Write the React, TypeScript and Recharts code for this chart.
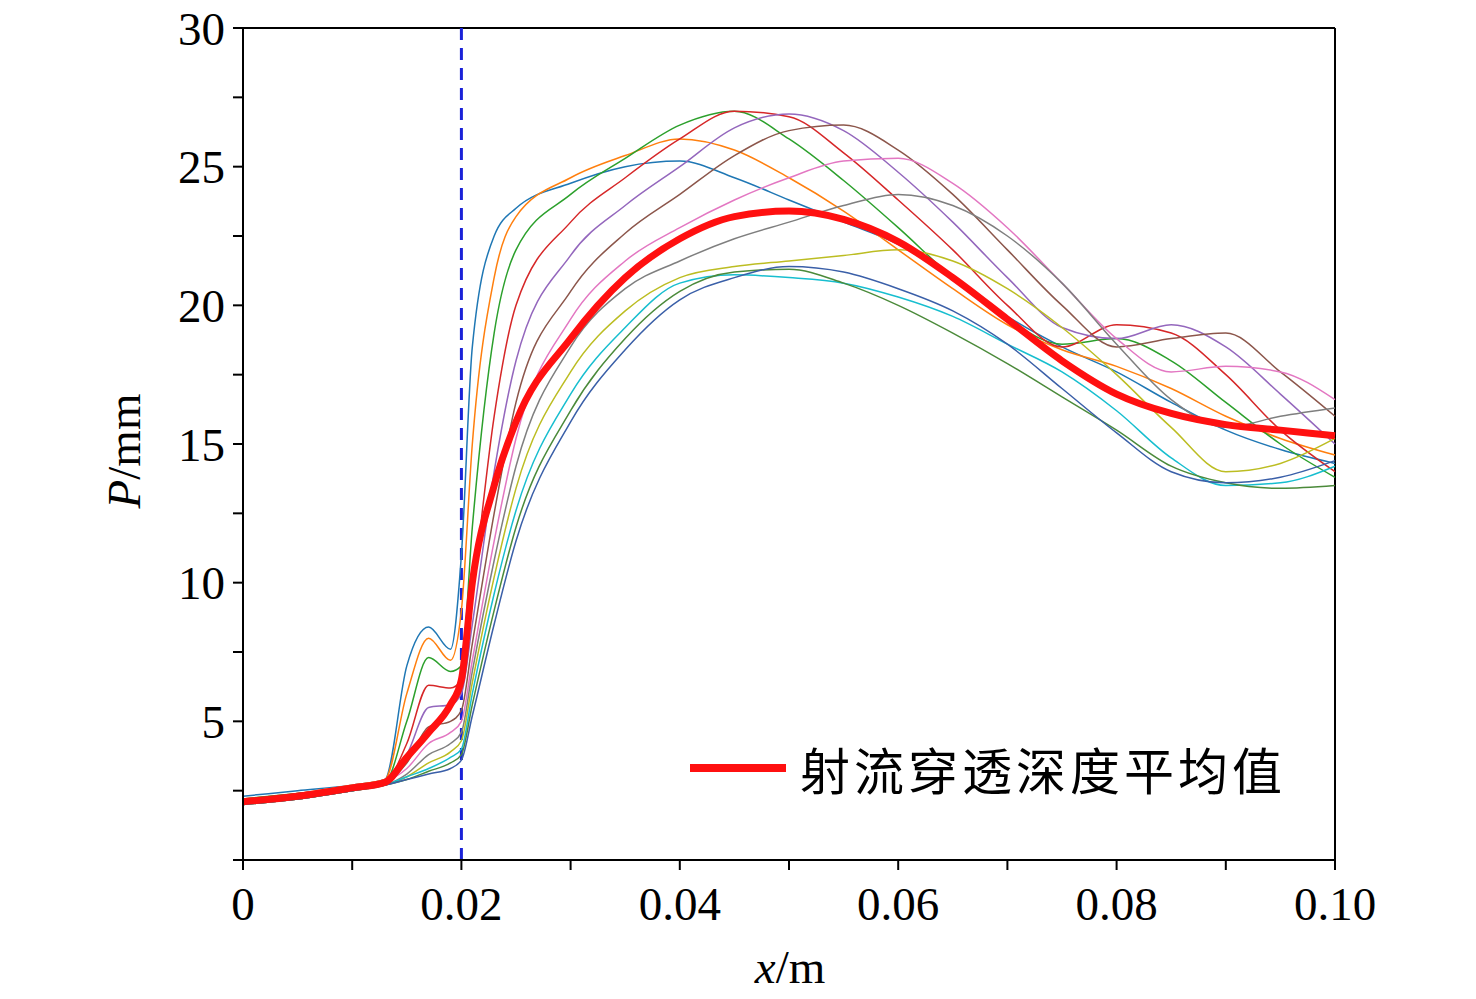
import React from "react";
import { LineChart, Line, XAxis, YAxis, ReferenceLine } from "recharts";

const xs = [0, 0.005, 0.01, 0.013, 0.015, 0.017, 0.019, 0.02, 0.021, 0.023, 0.025, 0.03, 0.035, 0.04, 0.045, 0.05, 0.055, 0.06, 0.065, 0.07, 0.075, 0.08, 0.085, 0.09, 0.095, 0.1];

const s1 = [2.3, 2.5, 2.7, 2.9, 7.0, 8.4, 7.6, 11.0, 18.5, 22.5, 23.5, 24.4, 25.0, 25.2, 24.6, 23.8, 23.0, 22.2, 21.0, 19.6, 18.5, 17.6, 16.5, 15.5, 14.8, 14.3];
const s2 = [2.2, 2.4, 2.7, 2.9, 6.0, 8.0, 7.2, 9.0, 15.0, 21.0, 23.2, 24.6, 25.4, 26.0, 25.6, 24.6, 23.4, 22.0, 20.6, 19.3, 18.4, 17.8, 17.0, 16.0, 15.2, 14.6];
const s3 = [2.2, 2.4, 2.6, 2.8, 5.0, 7.3, 6.8, 7.0, 12.0, 19.0, 22.0, 24.0, 25.3, 26.5, 27.0, 26.0, 24.5, 22.8, 21.0, 19.5, 18.6, 18.8, 18.0, 16.5, 15.0, 13.8];
const s4 = [2.1, 2.4, 2.6, 2.8, 4.2, 6.3, 6.2, 6.5, 9.5, 16.0, 20.0, 23.0, 24.6, 26.0, 27.0, 26.8, 25.5, 23.8, 22.0, 20.0, 18.5, 19.3, 19.0, 17.5, 15.5, 14.0];
const s5 = [2.1, 2.3, 2.6, 2.8, 3.8, 5.5, 5.6, 6.0, 8.5, 14.0, 18.0, 21.8, 23.6, 25.0, 26.4, 26.9, 26.3, 24.8, 23.0, 21.0, 19.2, 18.8, 19.3, 18.5, 16.8, 15.0];
const s6 = [2.1, 2.3, 2.6, 2.8, 3.5, 4.8, 5.0, 5.4, 7.8, 12.5, 16.5, 20.5, 22.6, 24.0, 25.4, 26.3, 26.5, 25.6, 24.0, 22.0, 20.0, 18.5, 18.8, 19.0, 17.6, 16.0];
const s7 = [2.0, 2.3, 2.5, 2.8, 3.3, 4.2, 4.6, 5.0, 7.2, 11.5, 15.2, 19.5, 21.6, 22.8, 23.8, 24.6, 25.2, 25.3, 24.4, 22.8, 20.8, 18.8, 17.6, 17.8, 17.6, 16.6];
const s8 = [2.0, 2.2, 2.5, 2.7, 3.1, 3.8, 4.2, 4.6, 6.8, 10.8, 14.2, 18.5, 20.6, 21.6, 22.4, 23.0, 23.6, 24.0, 23.6, 22.5, 20.8, 18.6, 16.6, 15.6, 16.0, 16.3];
const s9 = [2.0, 2.2, 2.5, 2.7, 3.0, 3.5, 3.9, 4.3, 6.4, 10.2, 13.4, 17.6, 19.8, 21.0, 21.4, 21.6, 21.8, 22.0, 21.6, 20.6, 19.2, 17.5, 15.6, 14.0, 14.3, 15.2];
const s10 = [2.0, 2.2, 2.5, 2.7, 3.0, 3.3, 3.7, 4.0, 6.0, 9.6, 12.6, 16.8, 19.2, 20.8, 21.1, 21.0, 20.8, 20.3, 19.6, 18.6, 17.6, 16.2, 14.5, 13.5, 13.6, 14.2];
const s11 = [2.0, 2.2, 2.5, 2.7, 2.9, 3.2, 3.5, 3.8, 5.6, 9.0, 12.0, 16.2, 18.8, 20.5, 21.2, 21.3, 20.8, 20.0, 19.0, 17.9, 16.7, 15.5, 14.2, 13.6, 13.4, 13.5];
const s12 = [2.0, 2.2, 2.5, 2.7, 2.9, 3.1, 3.3, 3.6, 5.2, 8.5, 11.5, 15.8, 18.4, 20.2, 21.0, 21.4, 21.2, 20.6, 19.8, 18.6, 17.0, 15.4, 14.0, 13.6, 13.8, 14.4];
const meanP = [2.1, 2.3, 2.6, 2.8, 3.7, 4.6, 5.6, 6.5, 10.0, 13.5, 15.8, 18.8, 21.0, 22.4, 23.2, 23.4, 23.1, 22.3, 21.0, 19.5, 18.0, 16.8, 16.1, 15.7, 15.5, 15.3];

const series = [s1, s2, s3, s4, s5, s6, s7, s8, s9, s10, s11, s12];
const colors = ["#1f77b4", "#ff7f0e", "#2ca02c", "#d62728", "#9467bd", "#8c564b", "#e377c2", "#7f7f7f", "#bcbd22", "#17becf", "#4b8a3a", "#3a5fa8"];
const xTicks = [0, 0.01, 0.02, 0.03, 0.04, 0.05, 0.06, 0.07, 0.08, 0.09, 0.1];
const yTicks = [0, 2.5, 5, 7.5, 10, 12.5, 15, 17.5, 20, 22.5, 25, 27.5, 30];
const legendLabel = "射流穿透深度平均值";

const data = xs.map((x, i) => {
  const row: any = { x, mean: meanP[i] };
  series.forEach((s, k) => (row["s" + k] = s[i]));
  return row;
});

const font = "'Liberation Serif', 'Times New Roman', serif";

export default function App() {
  return (
    <div style={{ position: "relative", width: 1468, height: 991 }}>
      <LineChart width={1468} height={991} data={data} margin={{ top: 20, right: 141, bottom: 79, left: 155 }} style={{ overflow: "visible" }}>
        <XAxis dataKey="x" type="number" domain={[0, 0.1]} ticks={xTicks} interval={0}
          tickFormatter={(v: number) => (Math.round(v * 100) % 2 === 0 ? (v === 0 ? "0" : v.toFixed(2)) : "")}
          tick={{ fill: "#000", fontSize: 47, fontFamily: font }} tickSize={10} tickMargin={17}
          stroke="#000" strokeWidth={2} height={60} />
        <YAxis type="number" domain={[0, 30]} ticks={yTicks} interval={0}
          tickFormatter={(v: number) => (v % 5 === 0 && v !== 0 ? String(v) : "")}
          tick={{ fill: "#000", fontSize: 47, fontFamily: font }} tickSize={10} tickMargin={8}
          stroke="#000" strokeWidth={2} width={80} />
        <ReferenceLine y={30} stroke="#000" strokeWidth={2} />
        <ReferenceLine x={0.1} stroke="#000" strokeWidth={2} />
        <ReferenceLine x={0.02} stroke="#1a22d8" strokeWidth={3} strokeDasharray="12 8" />
        {series.map((_, k) => (
          <Line key={k} dataKey={"s" + k} type="monotone" stroke={colors[k]} strokeWidth={1.5} dot={false} isAnimationActive={false} />
        ))}
        <Line dataKey="mean" type="monotone" stroke="#ff1010" strokeWidth={7} dot={false} isAnimationActive={false} />
        <text x={782} y={975} textAnchor="middle" fontSize={47} fontFamily={font} fill="#000">
          <tspan fontStyle="italic">x</tspan>/m
        </text>
        <text x={132} y={443} textAnchor="middle" fontSize={47} fontFamily={font} fill="#000" transform="rotate(-90 132 443)">
          <tspan fontStyle="italic">P</tspan>/mm
        </text>
      </LineChart>
      <div style={{ position: "absolute", left: 682, top: 724, display: "flex", alignItems: "center", fontFamily: "'Noto Sans CJK SC', sans-serif", fontSize: 50, letterSpacing: 4 }}>
        <div style={{ width: 96, height: 8, background: "#ff1010", marginRight: 14 }} />
        <span>{legendLabel}</span>
      </div>
    </div>
  );
}
